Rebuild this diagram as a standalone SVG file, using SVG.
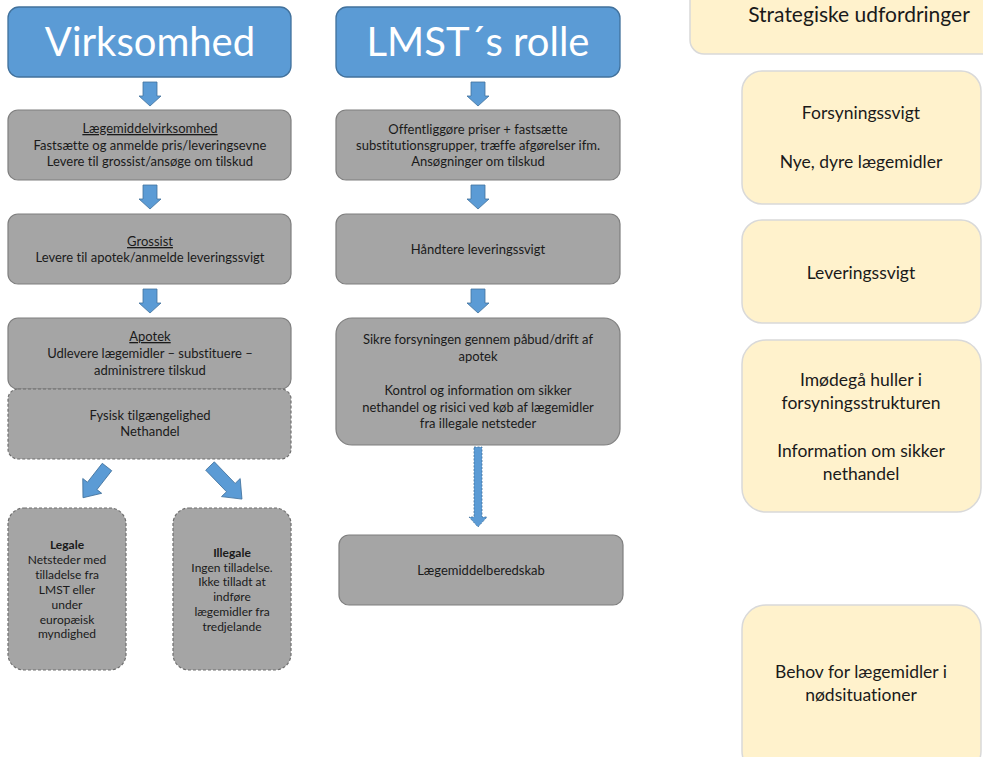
<svg xmlns="http://www.w3.org/2000/svg" width="983" height="757" viewBox="0 0 983 757">
<style>
.hdr{fill:#5b9bd5;stroke:#41719c;stroke-width:1.3}
.box{fill:#a5a5a5;stroke:#7f7f7f;stroke-width:1.2}
.dbox{fill:#a5a5a5;stroke:#6f6f6f;stroke-width:1.2;stroke-dasharray:3 2}
.ybox{fill:#fff2cc;stroke:#d9d9d9;stroke-width:1.5}
.arr{fill:#5b9bd5;stroke:#41719c;stroke-width:0.8}
.darr{fill:#5b9bd5;stroke:#41719c;stroke-width:0.8;stroke-dasharray:2 1.5}
text{font-family:Lato,"Open Sans","Liberation Sans",sans-serif;fill:#1a1a1a;text-anchor:middle;font-variant-ligatures:none}
.h{font-size:40px;fill:#ffffff}
.t{font-size:13px}
.s{font-size:12px}
.y{font-size:17.5px}
.yl{font-size:21px}
</style>
<g id="virksomhed"><rect class="hdr" x="8" y="7" width="283" height="70" rx="11"/><text class="h" x="150" y="56">Virksomhed</text></g>
<g id="lmst"><rect class="hdr" x="336" y="7" width="284" height="70" rx="11"/><text class="h" x="478" y="56">LMST´s rolle</text></g>
<g id="strategiske"><rect class="ybox" x="690" y="-30" width="310" height="84" rx="14"/><text class="yl" x="859" y="22">Strategiske udfordringer</text></g>
<g id="laegemiddelvirksomhed"><rect class="box" x="8" y="110" width="283" height="70" rx="10"/>
<text class="t" x="150" y="133" text-decoration="underline">Lægemiddelvirksomhed</text>
<text class="t" x="150" y="150">Fastsætte og anmelde pris/leveringsevne</text>
<text class="t" x="150" y="166">Levere til grossist/ansøge om tilskud</text></g>
<g id="grossist"><rect class="box" x="8" y="214" width="283" height="70" rx="10"/>
<text class="t" x="150" y="246" text-decoration="underline">Grossist</text>
<text class="t" x="150" y="262">Levere til apotek/anmelde leveringssvigt</text></g>
<g id="apotek"><rect class="box" x="8" y="318" width="283" height="71" rx="10"/>
<text class="t" x="150" y="341" text-decoration="underline">Apotek</text>
<text class="t" x="150" y="358">Udlevere lægemidler – substituere –</text>
<text class="t" x="150" y="375">administrere tilskud</text></g>
<g id="fysisk"><rect class="dbox" x="8" y="389" width="283" height="70" rx="10"/>
<text class="t" x="150" y="420">Fysisk tilgængelighed</text>
<text class="t" x="150" y="436">Nethandel</text></g>
<g id="legale"><rect class="dbox" x="8" y="508" width="118" height="162" rx="16"/>
<text class="s" x="67" y="549" font-weight="bold">Legale</text>
<text class="s" x="67" y="564">Netsteder med</text>
<text class="s" x="67" y="579">tilladelse fra</text>
<text class="s" x="67" y="594">LMST eller</text>
<text class="s" x="67" y="609">under</text>
<text class="s" x="67" y="624">europæisk</text>
<text class="s" x="67" y="638">myndighed</text></g>
<g id="illegale"><rect class="dbox" x="173" y="508" width="118" height="162" rx="16"/>
<text class="s" x="232" y="557" font-weight="bold">Illegale</text>
<text class="s" x="232" y="572">Ingen tilladelse.</text>
<text class="s" x="232" y="586">Ikke tilladt at</text>
<text class="s" x="232" y="601">indføre</text>
<text class="s" x="232" y="616">lægemidler fra</text>
<text class="s" x="232" y="631">tredjelande</text></g>
<g id="offentliggoere"><rect class="box" x="336" y="110" width="284" height="70" rx="10"/>
<text class="t" x="478" y="134">Offentliggøre priser + fastsætte</text>
<text class="t" x="478" y="150">substitutionsgrupper, træffe afgørelser ifm.</text>
<text class="t" x="478" y="166">Ansøgninger om tilskud</text></g>
<g id="haandtere"><rect class="box" x="336" y="214" width="284" height="70" rx="10"/>
<text class="t" x="478" y="254">Håndtere leveringssvigt</text></g>
<g id="sikre"><rect class="box" x="336" y="318" width="284" height="127" rx="16"/>
<text class="t" x="478" y="344">Sikre forsyningen gennem påbud/drift af</text>
<text class="t" x="478" y="361">apotek</text>
<text class="t" x="478" y="395">Kontrol og information om sikker</text>
<text class="t" x="478" y="412">nethandel og risici ved køb af lægemidler</text>
<text class="t" x="478" y="428">fra illegale netsteder</text></g>
<g id="beredskab"><rect class="box" x="339" y="535" width="284" height="70" rx="10"/>
<text class="t" x="481" y="575">Lægemiddelberedskab</text></g>
<g id="forsyningssvigt"><rect class="ybox" x="742" y="71" width="239" height="133" rx="20"/>
<text class="y" x="861" y="119">Forsyningssvigt</text>
<text class="y" x="861" y="168">Nye, dyre lægemidler</text></g>
<g id="leveringssvigt"><rect class="ybox" x="742" y="220" width="239" height="103" rx="20"/>
<text class="y" x="861" y="279">Leveringssvigt</text></g>
<g id="imoedegaa"><rect class="ybox" x="742" y="340" width="239" height="172" rx="24"/>
<text class="y" x="861" y="386">Imødegå huller i</text>
<text class="y" x="861" y="409">forsyningsstrukturen</text>
<text class="y" x="861" y="457">Information om sikker</text>
<text class="y" x="861" y="480">nethandel</text></g>
<g id="behov"><rect class="ybox" x="742" y="605" width="239" height="170" rx="24"/>
<text class="y" x="861" y="678">Behov for lægemidler i</text>
<text class="y" x="861" y="701">nødsituationer</text></g>
<g id="connectors">
<path class="arr" transform="translate(150,82)" d="M-7,0H7V14H11L0,24L-11,14H-7Z"/>
<path class="arr" transform="translate(150,185)" d="M-7,0H7V14H11L0,24L-11,14H-7Z"/>
<path class="arr" transform="translate(150,289)" d="M-7,0H7V14H11L0,24L-11,14H-7Z"/>
<path class="arr" transform="translate(478,82)" d="M-7,0H7V14H11L0,24L-11,14H-7Z"/>
<path class="arr" transform="translate(478,185)" d="M-7,0H7V14H11L0,24L-11,14H-7Z"/>
<path class="arr" transform="translate(478,289)" d="M-7,0H7V14H11L0,24L-11,14H-7Z"/>
<path class="darr" transform="translate(478,447)" d="M-4,0H4V70H9L0,80L-9,70H-4Z"/>
<path class="arr" transform="translate(107,467) rotate(38)" d="M-6,0H6V24H12L0,39L-12,24H-6Z"/>
<path class="arr" transform="translate(210,466) rotate(-44)" d="M-6,0H6V30H13L0,46L-13,30H-6Z"/>
</g>
</svg>
